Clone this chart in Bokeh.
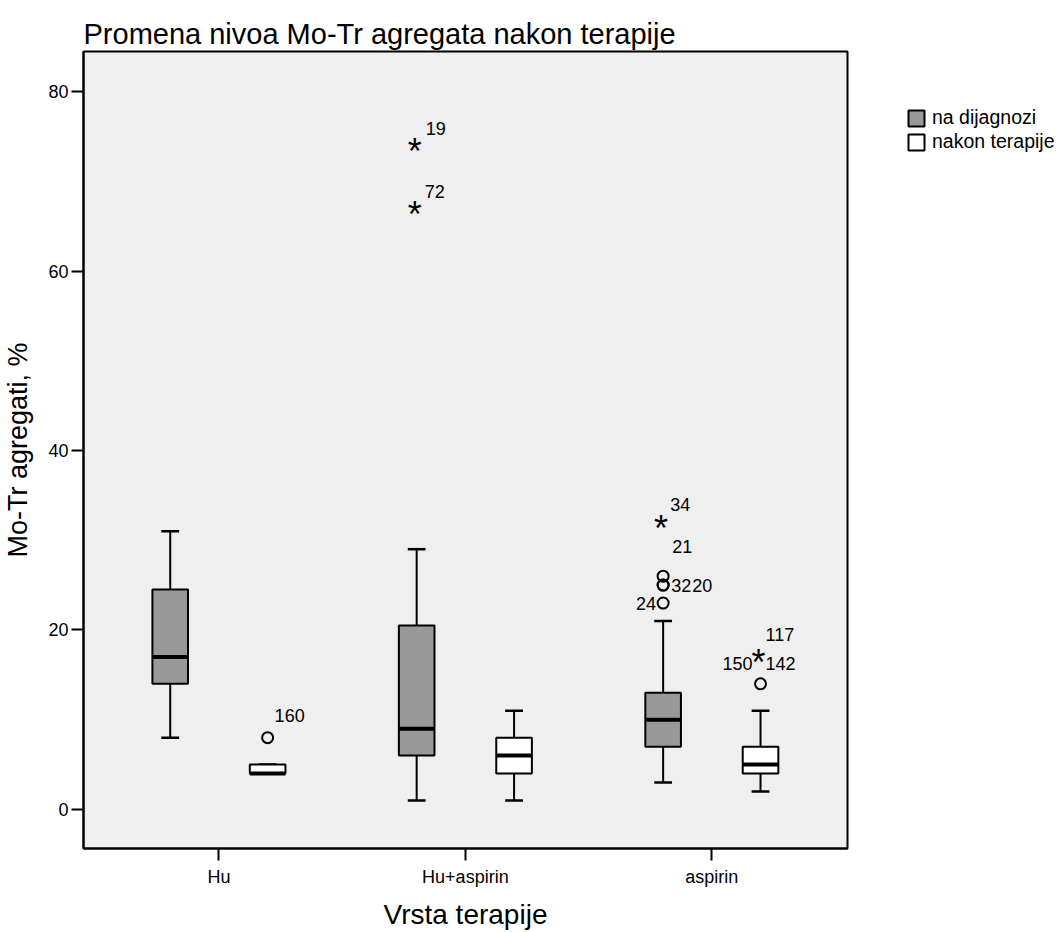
from bokeh.plotting import figure
from bokeh.models import Range1d, FixedTicker, Legend, LegendItem, ColumnDataSource
from bokeh.core.properties import value
from bokeh.embed import file_html
from bokeh.resources import INLINE

# ---------------- data ----------------
categories = ["Hu", "Hu+aspirin", "aspirin"]
groups = ["na dijagnozi", "nakon terapije"]

# box statistics per category
dg_min = [8, 1, 3]
dg_q1 = [14, 6, 7]
dg_med = [17, 9, 10]
dg_q3 = [24.5, 20.5, 13]
dg_max = [31, 29, 21]

nt_min = [4, 1, 2]
nt_q1 = [4, 4, 4]
nt_med = [4, 6, 5]
nt_q3 = [5, 8, 7]
nt_max = [5, 11, 11]

# outliers: category index, group index, value, kind (o = outlier, * = extreme)
out_cat = [0, 1, 1, 2, 2, 2, 2, 2, 2, 2]
out_grp = [1, 0, 0, 0, 0, 0, 0, 0, 1, 1]
out_val = [8, 74, 67, 32, 26, 25, 25, 23, 17, 14]
out_kind = ["o", "*", "*", "*", "o", "o", "o", "o", "*", "o"]

# case labels attached to outliers
lab_idx = [0, 1, 2, 3, 4, 5, 6, 7, 8, 8, 8]
lab_text = ["160", "19", "72", "34", "21", "32", "20", "24", "117", "150", "142"]

# ---------------- styles / layout ----------------
FONT = "Liberation Sans"
GREY = "#999999"
BG = "#efefef"
DODGE = 0.1976
BOX_W = 0.1445
CAP_W = BOX_W / 2

# label pixel offsets (style)
lab_dx = [7, 9, 8, 7, 9, 8, 29, -7, 5, -8, 5]
lab_dy = [-22, -17, -17, -18, -30, 0, 0, 0, -22, 7, 7]
lab_align = ["left", "left", "left", "left", "left", "left", "left", "right", "left", "right", "left"]

p = figure(frame_width=764, frame_height=797,
           min_border_left=81, min_border_right=212, min_border_top=51, min_border_bottom=84,
           x_range=Range1d(0.4505, 3.5505), y_range=Range1d(-4.35, 84.46),
           output_backend="svg", toolbar_location=None, title="Promena nivoa Mo-Tr agregata nakon terapije")

p.background_fill_color = BG
p.border_fill_color = "white"
p.outline_line_color = "black"
p.outline_line_width = 2
p.xgrid.visible = False
p.ygrid.visible = False

p.title.text_font = FONT
p.title.text_font_size = "29px"
p.title.text_font_style = "normal"
p.title.text_color = "black"
p.title.align = "left"
p.title.standoff = 4

for ax in (p.xaxis[0], p.yaxis[0]):
    ax.major_tick_out = 12
    ax.major_tick_in = 0
    ax.minor_tick_out = 0
    ax.minor_tick_in = 0
    ax.major_tick_line_width = 2
    ax.axis_line_width = 2
    ax.major_label_text_font = FONT
    ax.major_label_text_font_size = "18px"
    ax.major_label_text_color = "black"
    ax.axis_label_text_font = FONT
    ax.axis_label_text_font_size = "27px"
    ax.axis_label_text_font_style = "normal"
    ax.axis_label_text_color = "black"

p.xaxis.axis_label_text_font_size = "28px"
p.yaxis.ticker = FixedTicker(ticks=[0, 20, 40, 60, 80])
p.yaxis.axis_label = "Mo-Tr agregati, %"
p.yaxis.major_label_standoff = 3
p.yaxis.axis_label_standoff = 12
p.xaxis.ticker = FixedTicker(ticks=[1, 2, 3])
p.xaxis.major_label_overrides = {i + 1: c for i, c in enumerate(categories)}
p.xaxis.axis_label = "Vrsta terapije"
p.xaxis.major_label_standoff = 6
p.xaxis.axis_label_standoff = 9

renderers = []
for gi, (mn, q1, md, q3, mx, fill) in enumerate([
        (dg_min, dg_q1, dg_med, dg_q3, dg_max, GREY),
        (nt_min, nt_q1, nt_med, nt_q3, nt_max, "white")]):
    off = -DODGE if gi == 0 else DODGE
    xs = [i + 1 + off for i in range(len(categories))]
    src = ColumnDataSource(dict(x=xs, mn=mn, q1=q1, md=md, q3=q3, mx=mx,
                                xl=[x - BOX_W / 2 for x in xs], xr=[x + BOX_W / 2 for x in xs],
                                cl=[x - CAP_W / 2 for x in xs], cr=[x + CAP_W / 2 for x in xs]))
    # whiskers
    p.segment(x0="x", y0="q3", x1="x", y1="mx", source=src, line_color="black", line_width=2)
    p.segment(x0="x", y0="q1", x1="x", y1="mn", source=src, line_color="black", line_width=2)
    p.segment(x0="cl", y0="mx", x1="cr", y1="mx", source=src, line_color="black", line_width=2.5)
    p.segment(x0="cl", y0="mn", x1="cr", y1="mn", source=src, line_color="black", line_width=2.5)
    r = p.vbar(x="x", width=BOX_W, top="q3", bottom="q1", source=src,
               fill_color=fill, line_color="black", line_width=2)
    renderers.append(r)
    p.segment(x0="xl", y0="md", x1="xr", y1="md", source=src, line_color="black", line_width=4)

ox = [out_cat[i] + 1 + (-DODGE if out_grp[i] == 0 else DODGE) for i in range(len(out_val))]
circ = [i for i in range(len(out_val)) if out_kind[i] == "o"]
star = [i for i in range(len(out_val)) if out_kind[i] == "*"]
p.scatter([ox[i] for i in circ], [out_val[i] for i in circ], marker="circle", size=11,
          fill_color=None, line_color="black", line_width=2)
p.text([ox[i] for i in star], [out_val[i] for i in star], text=["*"] * len(star),
       text_font=value(FONT), text_font_size="36px", text_align="center",
       text_baseline="alphabetic", x_offset=-2, y_offset=6, text_color="black")

lsrc = ColumnDataSource(dict(x=[ox[i] for i in lab_idx], y=[out_val[i] for i in lab_idx],
                             t=lab_text, dx=lab_dx, dy=lab_dy, al=lab_align))
p.text(x="x", y="y", text="t", x_offset="dx", y_offset="dy", text_align="al",
       text_baseline="middle", source=lsrc, text_font=value(FONT), text_font_size="18px",
       text_color="black")

legend = Legend(items=[LegendItem(label=groups[0], renderers=[renderers[0]]),
                       LegendItem(label=groups[1], renderers=[renderers[1]])],
                location=(59, 695), orientation="vertical")
legend.background_fill_alpha = 0
legend.border_line_color = None
legend.padding = 0
legend.margin = 0
legend.spacing = 1
legend.glyph_width = 20
legend.glyph_height = 20
legend.label_standoff = 6
legend.label_text_font = FONT
legend.label_text_font_size = "19.5px"
legend.label_text_color = "black"
p.add_layout(legend, "right")

open("out.html", "w").write(file_html(p, INLINE))
